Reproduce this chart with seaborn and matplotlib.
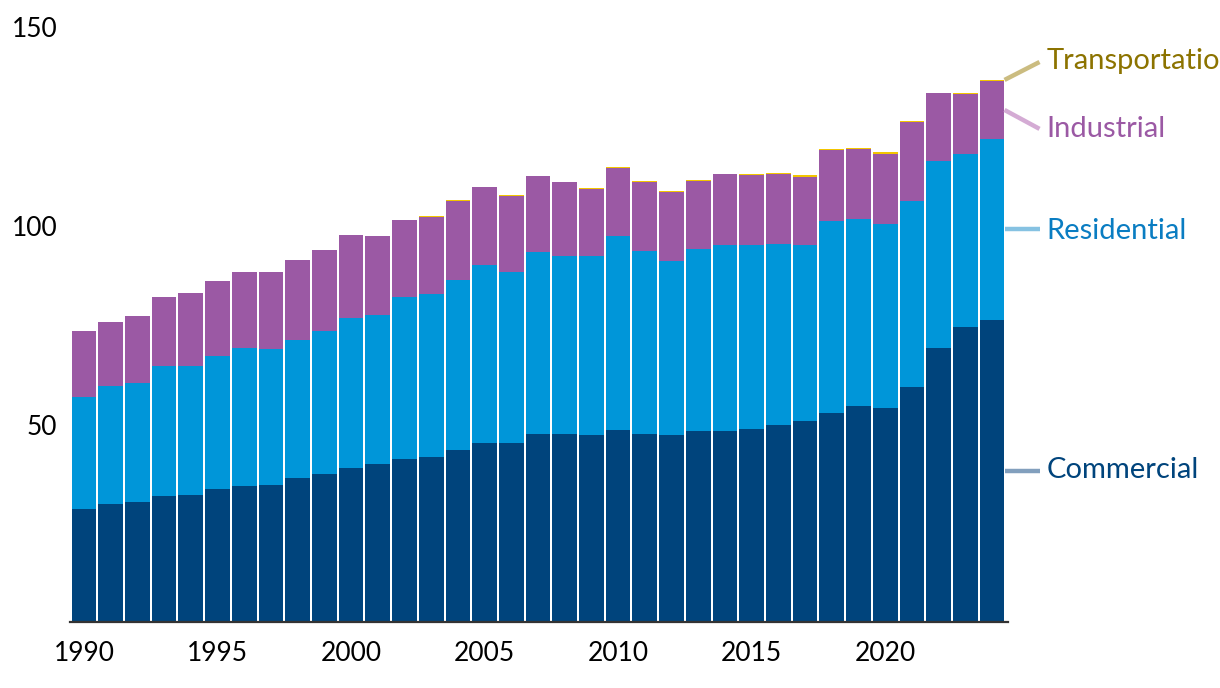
import numpy as np
import pandas as pd
import seaborn as sns
import matplotlib.pyplot as plt
import matplotlib.transforms as mtransforms

years = list(range(1990, 2025))
commercial = [28.4, 29.6, 30.2, 31.7, 31.9, 33.4, 34.2, 34.4, 36.2, 37.2,
              38.7, 39.7, 41.0, 41.5, 43.2, 45.0, 45.0, 47.2, 47.2, 47.0,
              48.2, 47.2, 47.0, 48.0, 48.0, 48.5, 49.5, 50.5, 52.5, 54.3,
              53.8, 59.0, 68.8, 74.1, 75.9]
residential = [28.1, 29.8, 29.9, 32.7, 32.5, 33.5, 34.7, 34.2, 34.7, 35.9,
               37.8, 37.4, 40.7, 40.9, 42.7, 44.7, 43.0, 45.8, 44.8, 45.0,
               48.9, 46.0, 43.7, 45.7, 46.7, 46.2, 45.5, 44.2, 48.3, 47.0,
               46.3, 46.8, 47.0, 43.6, 45.5]
industrial = [16.6, 16.0, 16.8, 17.3, 18.3, 18.8, 19.0, 19.3, 20.1, 20.4,
              20.7, 19.9, 19.3, 19.4, 19.9, 19.6, 19.0, 19.1, 18.6, 16.8,
              17.0, 17.4, 17.3, 17.1, 17.9, 17.6, 17.6, 17.2, 17.9, 17.6,
              17.6, 19.9, 17.1, 15.0, 14.5]
transportation = [0, 0, 0, 0, 0, 0, 0, 0, 0, 0,
                  0, 0, 0, 0.3, 0.3, 0, 0.3, 0, 0, 0.3,
                  0.3, 0.3, 0.3, 0.3, 0, 0.3, 0.3, 0.3, 0.2, 0.3,
                  0.3, 0.3, 0, 0.3, 0.3]

tick_years = [1990, 1995, 2000, 2005, 2010, 2015, 2020]

df = pd.DataFrame({"year": years, "Commercial": commercial, "Residential": residential,
                   "Industrial": industrial, "Transportation": transportation})
df["c1"] = df["Commercial"]
df["c2"] = df["c1"] + df["Residential"]
df["c3"] = df["c2"] + df["Industrial"]
df["c4"] = df["c3"] + df["Transportation"]

sns.set_style("white")
plt.rcParams['font.family'] = ['Lato', 'DejaVu Sans']

fig = plt.figure(figsize=(12.2, 6.88), dpi=100)
ax = fig.add_axes([70 / 1220, 66 / 688, 938 / 1220, 597 / 688])

bar_colors = {"c4": "#F2C500", "c3": "#9B59A4", "c2": "#0096D9", "c1": "#00447C"}
for col in ["c4", "c3", "c2", "c1"]:
    sns.barplot(data=df, x="year", y=col, color=bar_colors[col], saturation=1,
                width=0.925, errorbar=None, linewidth=0, ax=ax)

ax.set_xlim(-0.524, 34.6)
ax.set_ylim(0, 150)
ax.set_yticks([50, 100, 150])
ax.set_yticklabels(["50", "100", "150"])
ax.set_xticks([years.index(y) for y in tick_years])
ax.set_xticklabels([str(y) for y in tick_years])
ax.tick_params(axis="both", length=0, labelsize=19, colors="black")
ax.tick_params(axis="y", pad=9)
ax.tick_params(axis="x", pad=14)
ax.set_xlabel("")
ax.set_ylabel("")
for s in ["top", "right", "left"]:
    ax.spines[s].set_visible(False)
ax.spines["bottom"].set_color("#333333")
ax.spines["bottom"].set_linewidth(1.6)

# nudge y labels down a little, like the original
shift = mtransforms.ScaledTranslation(0, -0.02, fig.dpi_scale_trans)
for lab in ax.get_yticklabels():
    lab.set_transform(lab.get_transform() + shift)

# right-hand labels with leader lines
last = len(years) - 1
x0 = last + 0.47
x1 = last + 1.78
xt = last + 2.05
mids = {
    "Commercial": df["c1"].iloc[last] / 2,
    "Residential": (df["c1"].iloc[last] + df["c2"].iloc[last]) / 2,
    "Industrial": (df["c2"].iloc[last] + df["c3"].iloc[last]) / 2,
    "Transportation": df["c4"].iloc[last],
}
label_y = {"Commercial": 38.1, "Residential": 98.3, "Industrial": 123.8, "Transportation": 141.0}
end_y = {"Commercial": mids["Commercial"], "Residential": mids["Residential"],
         "Industrial": 123.9, "Transportation": 140.7}
text_colors = {"Commercial": "#00447C", "Residential": "#0A7DC2",
               "Industrial": "#9B59A4", "Transportation": "#8C7300"}
line_colors = {"Commercial": "#829FBD", "Residential": "#86C2E2",
               "Industrial": "#D4ABD4", "Transportation": "#CBBC80"}
for name in ["Commercial", "Residential", "Industrial", "Transportation"]:
    ax.plot([x0, x1], [mids[name], end_y[name]], color=line_colors[name],
            lw=3.2, clip_on=False, solid_capstyle="butt")
    ax.text(xt, label_y[name], name, color=text_colors[name], fontsize=21,
            va="center", ha="left", clip_on=False)

fig.savefig("out.png", dpi=100)
